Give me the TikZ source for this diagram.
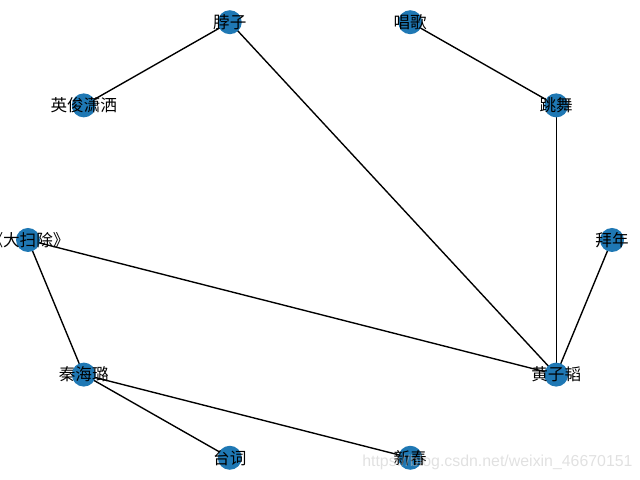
\documentclass[tikz,border=0pt]{standalone}
\usepackage{fontspec}
\newfontfamily\cjk{Noto Sans CJK SC}
\newfontfamily\wmfont{Liberation Sans}
\usetikzlibrary{backgrounds}
\definecolor{nxblue}{HTML}{1F78B4}
\definecolor{wmgray}{RGB}{195,195,195}
\tikzset{
  dot/.style={circle,fill=nxblue,draw=none,minimum size=24*0.025cm,inner sep=0pt},
  lbl/.style={font=\cjk\fontsize{11.8}{12}\selectfont,text=black,inner sep=0pt},
  edge/.style={draw=black,line width=0.98pt},
  wm/.style={font=\wmfont\fontsize{11.3}{12}\selectfont,text=wmgray,text opacity=0.5,inner sep=0pt}
}
\begin{document}
\begin{tikzpicture}[x=0.025cm,y=0.025cm]
\useasboundingbox (0,0) rectangle (640,480);
\begin{scope}[shift={(320,240)}]
\node[dot,label={[lbl]center:拜年}] (bainian) at (0:292 and 229) {};
\node[dot,label={[lbl]center:跳舞}] (tiaowu) at (36:292 and 229) {};
\node[dot,label={[lbl]center:唱歌}] (changge) at (72:292 and 229) {};
\node[dot,label={[lbl]center:脖子}] (bozi) at (108:292 and 229) {};
\node[dot,label={[lbl]center:英俊潇洒}] (yingjun) at (144:292 and 229) {};
\node[dot,label={[lbl]center:《大扫除》}] (dasaochu) at (180:292 and 229) {};
\node[dot,label={[lbl]center:秦海璐}] (qin) at (216:292 and 229) {};
\node[dot,label={[lbl]center:台词}] (taici) at (252:292 and 229) {};
\node[dot,label={[lbl]center:新春}] (xinchun) at (288:292 and 229) {};
\node[dot,label={[lbl]center:黄子韬}] (huang) at (324:292 and 229) {};
\end{scope}
\begin{scope}[on background layer]
\draw[edge] (bozi.center) -- (yingjun.center);
\draw[edge] (bozi.center) -- (huang.center);
\draw[edge] (changge.center) -- (tiaowu.center);
\draw[edge] (tiaowu.center) -- (huang.center);
\draw[edge] (bainian.center) -- (huang.center);
\draw[edge] (dasaochu.center) -- (huang.center);
\draw[edge] (dasaochu.center) -- (qin.center);
\draw[edge] (qin.center) -- (taici.center);
\draw[edge] (qin.center) -- (xinchun.center);
\end{scope}
\node[wm,anchor=west] (watermark) at (362,18) {https://blog.csdn.net/weixin\_46670151};
\end{tikzpicture}
\end{document}
